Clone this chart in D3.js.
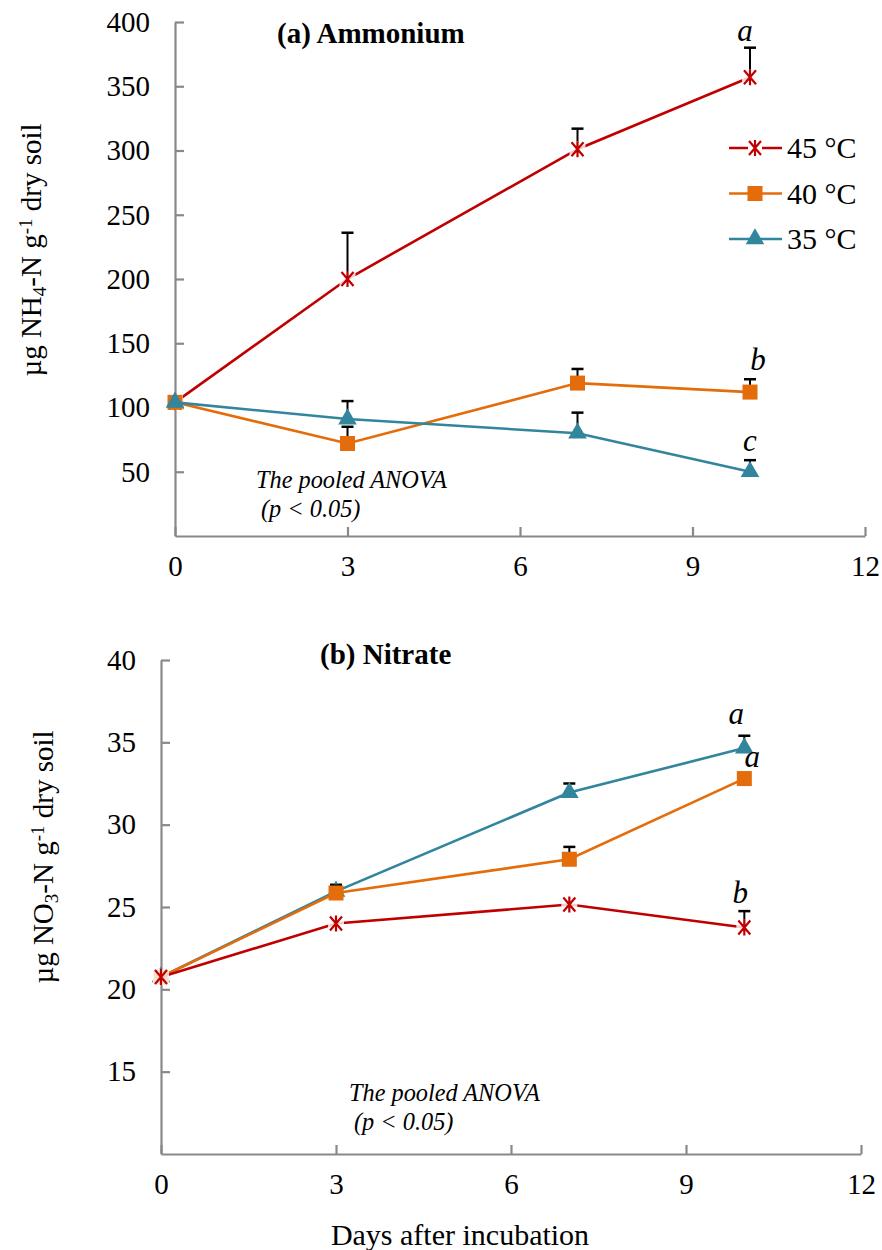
<!DOCTYPE html>
<html>
<head>
<meta charset="utf-8">
<script src="https://cdn.jsdelivr.net/npm/d3@7"></script>
<style>
  body { margin: 0; background: #fff; }
  svg, svg text { font-family: "Liberation Serif", "Times New Roman", serif; }
</style>
</head>
<body>
<svg id="chart" width="882" height="1250"></svg>
<script>
// ************************************
// Data
// ************************************
let days = [0, 3, 7, 10];
let seriesNames = ["45 °C", "40 °C", "35 °C"];

// (a) ammonium, ug NH4-N per g dry soil
let nh4_45 = [104, 200, 301, 357];
let nh4_45_se = [0, 36, 16, 23];
let nh4_40 = [104, 72, 119, 112];
let nh4_40_se = [0, 13, 11, 10];
let nh4_35 = [104, 91, 80, 50];
let nh4_35_se = [0, 14, 16, 9];
let nh4Letters = ["a", "b", "c"];

// (b) nitrate, ug NO3-N per g dry soil
let no3_45 = [20.75, 24.0, 25.15, 23.75];
let no3_45_se = [0, 0, 0, 1.0];
let no3_40 = [20.75, 25.85, 27.9, 32.8];
let no3_40_se = [0, 0.45, 0.75, 0.2];
let no3_35 = [20.75, 25.95, 31.95, 34.65];
let no3_35_se = [0, 0.4, 0.55, 0.75];
let no3Letters = ["b", "a", "a"];

let xTicks = [0, 3, 6, 9, 12];
let nh4Ticks = [50, 100, 150, 200, 250, 300, 350, 400];
let no3Ticks = [15, 20, 25, 30, 35, 40];

let colors = ["#C00000", "#E46C0A", "#31859C"];
let axisColor = "#898989";
let serif = "Liberation Serif, Times New Roman, serif";

let svg = d3.select("#chart");

// ************************************
// Markers
// ************************************
function drawMarker(g, type, color) {
  if (type === 0) {
    // asterisk style cross
    g.append("path")
      .attr("d", "M-6,-7L6,7M-6,7L6,-7M0,-8L0,8")
      .attr("stroke", color)
      .attr("stroke-width", 2.2)
      .attr("fill", "none");
  } else if (type === 1) {
    g.append("rect")
      .attr("x", -7.5).attr("y", -7.5)
      .attr("width", 15).attr("height", 15)
      .attr("fill", color);
  } else {
    g.append("path")
      .attr("d", d3.symbol().type(d3.symbolTriangle).size(150)())
      .attr("fill", color);
  }
}

// ************************************
// Panel
// ************************************
function drawPanel(p) {
  let x = d3.scaleLinear().domain([0, 12]).range([p.left, p.right]);
  let y = d3.scaleLinear().domain(p.yDomain).range([p.bottom, p.top]);

  let g = svg.append("g");

  // y axis, ticks pointing inward
  let yAxis = g.append("g")
    .attr("transform", "translate(" + p.left + ",0)")
    .call(d3.axisLeft(y).tickValues(p.yTicks).tickSizeInner(-9).tickSizeOuter(0).tickPadding(25));
  // x axis
  let xAxis = g.append("g")
    .attr("transform", "translate(0," + p.bottom + ")")
    .call(d3.axisBottom(x).tickValues(xTicks).tickSizeInner(-9).tickSizeOuter(0).tickPadding(19));

  [yAxis, xAxis].forEach(function(a) {
    a.attr("font-family", serif).attr("font-size", 29);
    a.select(".domain").attr("stroke", axisColor).attr("stroke-width", 2.2);
    a.selectAll(".tick line").attr("stroke", axisColor).attr("stroke-width", 2.2);
    a.selectAll(".tick text").attr("fill", "#000");
  });
  xAxis.selectAll(".tick text").attr("dy", "0.72em");

  // y axis label
  let lab = g.append("text")
    .attr("transform", "translate(" + p.yLabelX + "," + p.yLabelY + ") rotate(-90)")
    .attr("text-anchor", "middle")
    .style("font-size", "29px");
  lab.append("tspan").text("\u00b5g " + p.chem);
  lab.append("tspan").attr("baseline-shift", "-25%").style("font-size", "19px").text(p.sub);
  lab.append("tspan").text("-N g");
  lab.append("tspan").attr("baseline-shift", "45%").style("font-size", "19px").text("-1");
  lab.append("tspan").text(" dry soil");

  // panel title
  g.append("text")
    .attr("x", p.titleX).attr("y", p.titleY)
    .style("font-size", "29px")
    .style("font-weight", "bold")
    .text(p.title);

  // ANOVA note
  g.append("text")
    .attr("x", p.noteX).attr("y", p.noteY)
    .style("font-size", "24.3px")
    .style("font-style", "italic")
    .text("The pooled ANOVA");
  g.append("text")
    .attr("x", p.noteX + 5).attr("y", p.noteY + 29)
    .style("font-size", "24.3px")
    .style("font-style", "italic")
    .text("(p < 0.05)");

  let line = d3.line()
    .x(function(d) { return x(d.day); })
    .y(function(d) { return y(d.v); });

  p.order.forEach(function(s) {
    let pts = days.map(function(d, i) {
      return { day: d, v: p.values[s][i], se: p.errors[s][i] };
    });

    // error bars (upper only)
    let eb = g.append("g");
    pts.forEach(function(d) {
      if (d.se <= 0) return;
      eb.append("line")
        .attr("x1", x(d.day)).attr("x2", x(d.day))
        .attr("y1", y(d.v)).attr("y2", y(d.v + d.se))
        .attr("stroke", "#000").attr("stroke-width", 2);
      eb.append("line")
        .attr("x1", x(d.day) - 6).attr("x2", x(d.day) + 6)
        .attr("y1", y(d.v + d.se)).attr("y2", y(d.v + d.se))
        .attr("stroke", "#000").attr("stroke-width", 2.5);
    });

    g.append("path")
      .datum(pts)
      .attr("d", line)
      .attr("fill", "none")
      .attr("stroke", colors[s])
      .attr("stroke-width", 2.6);

    pts.forEach(function(d) {
      let m = g.append("g").attr("transform", "translate(" + x(d.day) + "," + y(d.v) + ")");
      if (s === 0) {
        m.append("rect").attr("x", -8).attr("y", -8).attr("width", 16).attr("height", 16).attr("fill", "#fff").attr("opacity", 0.8);
      }
      drawMarker(m, s, colors[s]);
    });
  });

  // significance letters at day 10
  p.letters.forEach(function(l, s) {
    let last = days.length - 1;
    let top = p.values[s][last] + p.errors[s][last];
    g.append("text")
      .attr("x", x(days[last]) + p.letterDx[s])
      .attr("y", y(top) + p.letterDy[s])
      .attr("text-anchor", "middle")
      .style("font-size", "31px")
      .style("font-style", "italic")
      .text(l);
  });

  return { x: x, y: y };
}

drawPanel({
  left: 175, right: 865, top: 22, bottom: 536,
  yDomain: [0, 400], yTicks: nh4Ticks,
  chem: "NH", sub: "4",
  yLabelX: 41, yLabelY: 250,
  title: "(a) Ammonium", titleX: 277, titleY: 43,
  noteX: 256, noteY: 488,
  values: [nh4_45, nh4_40, nh4_35],
  errors: [nh4_45_se, nh4_40_se, nh4_35_se],
  order: [0, 1, 2],
  letters: nh4Letters,
  letterDx: [-5, 8, 0],
  letterDy: [-7, -9, -9]
});

drawPanel({
  left: 161, right: 861, top: 660, bottom: 1154,
  yDomain: [10, 40], yTicks: no3Ticks,
  chem: "NO", sub: "3",
  yLabelX: 53, yLabelY: 857,
  title: "(b) Nitrate", titleX: 320, titleY: 664,
  noteX: 349, noteY: 1101,
  values: [no3_45, no3_40, no3_35],
  errors: [no3_45_se, no3_40_se, no3_35_se],
  order: [2, 1, 0],
  letters: no3Letters,
  letterDx: [-4, 8, -8],
  letterDy: [-8, -8, -12]
});

// shared x axis title
svg.append("text")
  .attr("x", 460).attr("y", 1245)
  .attr("text-anchor", "middle")
  .style("font-size", "30px")
  .text("Days after incubation");

// legend for panel (a)
let legend = svg.append("g").attr("transform", "translate(729,148)");
seriesNames.forEach(function(name, i) {
  let row = legend.append("g").attr("transform", "translate(0," + (i * 45.5) + ")");
  row.append("line")
    .attr("x1", 0).attr("x2", 53)
    .attr("stroke", colors[i]).attr("stroke-width", 2.6);
  let m = row.append("g").attr("transform", "translate(26,0)");
  if (i === 0) {
    m.append("rect").attr("x", -7).attr("y", -8).attr("width", 14).attr("height", 16).attr("fill", "#fff");
  }
  drawMarker(m, i, colors[i]);
  row.append("text")
    .attr("x", 58).attr("y", 10)
    .style("font-size", "30px")
    .text(name);
});
</script>
</body>
</html>
